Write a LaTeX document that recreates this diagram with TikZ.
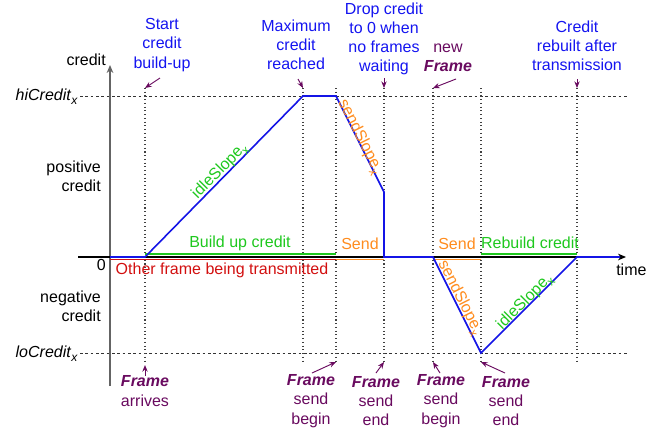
\documentclass[tikz,border=0pt]{standalone}
\usepackage{fontspec}
\setmainfont{Liberation Sans}
\usetikzlibrary{arrows.meta}
\definecolor{tblue}{RGB}{20,20,240}
\definecolor{lblue}{RGB}{20,20,230}
\definecolor{cgreen}{RGB}{30,200,30}
\definecolor{corange}{RGB}{255,140,30}
\definecolor{cred}{RGB}{210,15,15}
\definecolor{cpurple}{RGB}{105,10,95}
\definecolor{axgray}{RGB}{100,100,100}
\newcommand{\mysub}[1]{\raisebox{-0.45ex}{\fontsize{9}{9}\selectfont #1}}
\newcommand{\fr}{\textbf{\textit{Frame}}}
\begin{document}
\begin{tikzpicture}[x=0.75pt,y=-0.75pt,
  txt/.style={font=\fontsize{12}{14.4}\selectfont, inner sep=0pt, align=center},
  bluetxt/.style={txt, text=tblue},
  purtxt/.style={txt, text=cpurple},
  annot/.style={draw=cpurple, line width=0.7pt, -{Stealth[length=5pt,width=4pt]}},
  vdot/.style={draw=black!75, dotted, line width=0.8pt},
  hdash/.style={draw=black!80, dash pattern=on 2pt off 2pt, line width=0.6pt},
  bar/.style={line width=1.2pt},
  curve/.style={draw=lblue, line width=1.2pt, line join=miter}
]
\useasboundingbox (0,0) rectangle (665,430);

% key coordinates
\coordinate (c0) at (110,257);
\coordinate (c1) at (145,257);
\coordinate (c2) at (303,96);
\coordinate (c3) at (336,96);
\coordinate (c4) at (384,192);
\coordinate (c5) at (384,257);
\coordinate (c6) at (433,257);
\coordinate (c7) at (481,353);
\coordinate (c8) at (577,257);
\coordinate (c9) at (620,257);

% dashed hi / lo lines
\coordinate (hiL) at (80,96); \coordinate (hiR) at (628,96);
\coordinate (loL) at (80,353); \coordinate (loR) at (628,353);
\draw[hdash] (hiL) -- (hiR);
\draw[hdash] (loL) -- (loR);

% dotted vertical lines
\coordinate (atop) at (145,88); \coordinate (abot) at (145,362);
\coordinate (btop) at (303,88); \coordinate (bbot) at (303,362);
\coordinate (ctop) at (336,88); \coordinate (cbot) at (336,362);
\coordinate (dtop) at (384,88); \coordinate (dbot) at (384,362);
\coordinate (etop) at (433,88); \coordinate (ebot) at (433,362);
\coordinate (ftop) at (481,88); \coordinate (fbot) at (481,362);
\coordinate (gtop) at (577,88); \coordinate (gbot) at (577,362);
\draw[vdot] (atop) -- (abot);
\draw[vdot] (btop) -- (bbot);
\draw[vdot] (ctop) -- (cbot);
\draw[vdot] (dtop) -- (dbot);
\draw[vdot] (etop) -- (ebot);
\draw[vdot] (ftop) -- (fbot);
\draw[vdot] (gtop) -- (gbot);

% axes
\coordinate (yb) at (110,386); \coordinate (yt) at (110,65);
\coordinate (xl) at (78,257); \coordinate (xr) at (626,257);
\draw[axgray, line width=0.9pt, -{Stealth[length=6pt,width=5pt]}] (yb) -- (yt);
\draw[black, line width=0.8pt, -{Stealth[length=6pt,width=5pt]}] (xl) -- (xr);

% colored bars
\draw[bar, cgreen] (145,254) -- (336,254);
\draw[bar, cred] (110,259.5) -- (336,259.5);
\draw[bar, corange] (336,259.5) -- (384,259.5);
\draw[bar, corange] (433,259.5) -- (481,259.5);
\draw[bar, cgreen] (481,254) -- (577,254);

% credit curve
\draw[curve] (c0) -- (c1) -- (c2) -- (c3) -- (c4) -- (c5) -- (c6) -- (c7) -- (c8) -- (c9);

% axis labels
\node[txt, anchor=east] (lcredit) at (106,60) {credit};
\node[txt, anchor=east] (lhi) at (78,97) {\textit{hiCredit}\mysub{\textit{x}}};
\node[txt, anchor=east, align=right] (lpos) at (101,176) {positive\\credit};
\node[txt, anchor=east] (lzero) at (106,265) {0};
\node[txt, anchor=east, align=right] (lneg) at (101,306) {negative\\credit};
\node[txt, anchor=east] (llo) at (78,354) {\textit{loCredit}\mysub{\textit{x}}};
\node[txt, anchor=west] (ltime) at (616,270) {time};

% bar labels
\node[txt, text=cgreen] (lbuild) at (240,243) {Build up credit};
\node[txt, text=cred] (lother) at (222,270) {Other frame being transmitted};
\node[txt, text=corange] (lsend1) at (360,244) {Send};
\node[txt, text=corange] (lsend2) at (457,244) {Send};
\node[txt, text=cgreen] (lrebuild) at (530,243) {Rebuild credit};

% slope labels
\node[txt, text=cgreen, rotate=45.5] (lidle1) at (220,171) {idleSlope\mysub{x}};
\node[txt, text=corange, rotate=-63.4] (lsendsl1) at (360,137) {sendSlope\mysub{x}};
\node[txt, text=corange, rotate=-63.4] (lsendsl2) at (460,298) {sendSlope\mysub{x}};
\node[txt, text=cgreen, rotate=45] (lidle2) at (525,302) {idleSlope\mysub{x}};

% top annotations
\node[bluetxt] (nstart) at (162,45) {Start\\credit\\build-up};
\node[bluetxt] (nmax) at (296,45) {Maximum\\credit\\reached};
\node[bluetxt] (ndrop) at (384,39) {Drop credit\\to 0 when\\no frames\\waiting};
\node[purtxt] (nnew) at (448,58) {new\\\fr};
\node[bluetxt] (nrebuilt) at (577,46) {Credit\\rebuilt after\\transmission};

\coordinate (s1) at (160,78);
\coordinate (s2) at (298,79);
\coordinate (s3) at (384,78);
\coordinate (s4) at (456,79);
\coordinate (s5) at (577,79);
\draw[annot] (s1) -- (atop);
\draw[annot] (s2) -- (btop);
\draw[annot] (s3) -- (dtop);
\draw[annot] (s4) -- (etop);
\draw[annot] (s5) -- (gtop);

% bottom annotations
\node[purtxt] (narr) at (145,391) {\fr\\arrives};
\node[purtxt] (nsb1) at (311,401) {\fr\\send\\begin};
\node[purtxt] (nse1) at (376,401) {\fr\\send\\end};
\node[purtxt] (nsb2) at (441,401) {\fr\\send\\begin};
\node[purtxt] (nse2) at (506,401) {\fr\\send\\end};

\coordinate (atip) at (145,365);
\coordinate (u1) at (145,376);
\coordinate (u2) at (312,373);
\coordinate (u3) at (376,373);
\coordinate (u4) at (440,373);
\coordinate (u5) at (505,373);
\draw[annot] (u1) -- (atip);
\draw[annot] (u2) -- (cbot);
\draw[annot] (u3) -- (dbot);
\draw[annot] (u4) -- (ebot);
\draw[annot] (u5) -- (fbot);
\end{tikzpicture}
\end{document}
